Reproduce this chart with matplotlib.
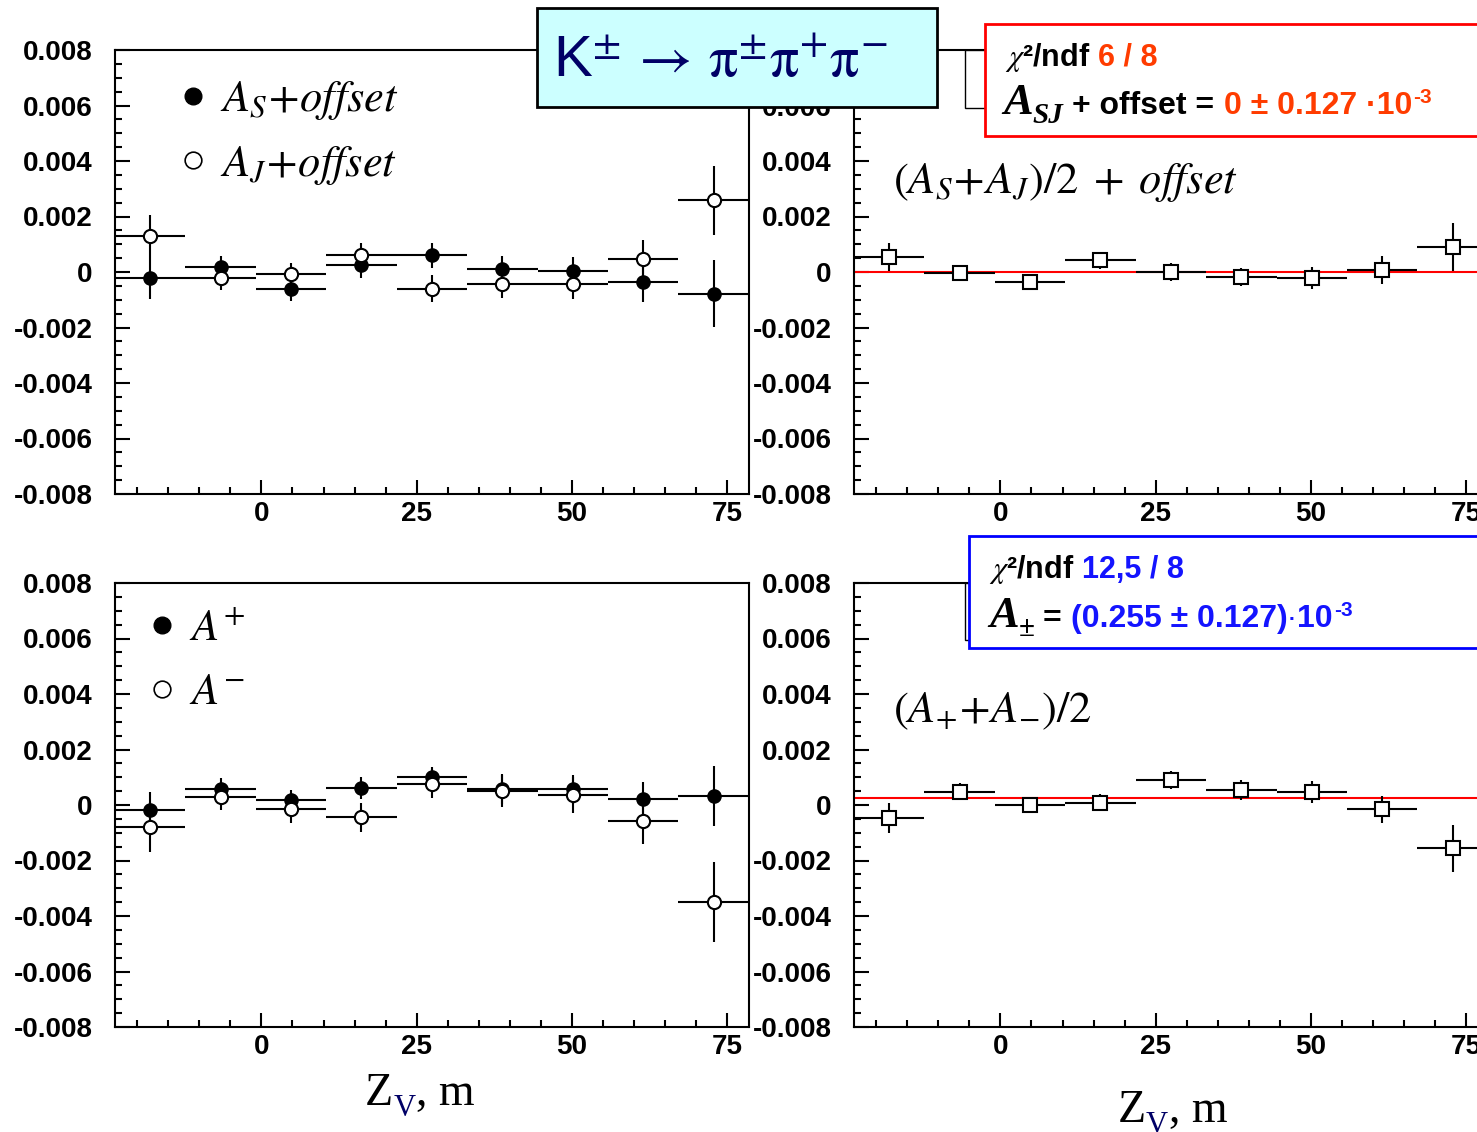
import matplotlib
matplotlib.use('Agg')
import numpy as np
import matplotlib.pyplot as plt
from matplotlib.patches import Rectangle
from matplotlib.lines import Line2D
from matplotlib.ticker import MultipleLocator, FuncFormatter

plt.rcParams['mathtext.fontset'] = 'stix'
plt.rcParams['font.family'] = ['Liberation Sans', 'DejaVu Sans']

# ---------------------------------------------------------------- data
# bin centres (m) and half widths of the Z_V bins
z_bins = [-17.91, -6.57, 4.77, 16.11, 27.45, 38.79, 50.13, 61.47, 72.81]
z_half = [5.67, 5.67, 5.67, 5.67, 5.67, 5.67, 5.67, 5.67, 5.67]

# asymmetries in units of 1e-3
a_s = [-0.20, 0.18, -0.63, 0.24, 0.60, 0.12, 0.04, -0.36, -0.78]
a_s_err = [0.79, 0.40, 0.42, 0.44, 0.46, 0.44, 0.50, 0.72, 1.20]
a_j = [1.30, -0.22, -0.08, 0.60, -0.60, -0.44, -0.42, 0.48, 2.58]
a_j_err = [0.74, 0.42, 0.41, 0.44, 0.48, 0.49, 0.55, 0.68, 1.24]
avg_sj = [0.54, -0.04, -0.36, 0.42, 0.00, -0.18, -0.22, 0.06, 0.90]
avg_sj_err = [0.52, 0.28, 0.30, 0.30, 0.31, 0.34, 0.40, 0.50, 0.86]
fit_sj = 0.0

a_plus = [-0.18, 0.59, 0.18, 0.61, 1.00, 0.57, 0.57, 0.23, 0.32]
a_plus_err = [0.66, 0.37, 0.36, 0.41, 0.38, 0.52, 0.52, 0.61, 1.07]
a_minus = [-0.78, 0.30, -0.16, -0.44, 0.76, 0.52, 0.36, -0.57, -3.48]
a_minus_err = [0.90, 0.48, 0.50, 0.52, 0.52, 0.60, 0.64, 0.82, 1.44]
avg_pm = [-0.48, 0.48, 0.00, 0.08, 0.90, 0.54, 0.48, -0.16, -1.56]
avg_pm_err = [0.54, 0.30, 0.30, 0.30, 0.32, 0.35, 0.40, 0.49, 0.84]
fit_pm = 0.255

ORANGE = '#ff3c00'
BLUE = '#1414ff'
NAVY = '#000066'

W, H = 1477, 1132
fig = plt.figure(figsize=(W / 100, H / 100), dpi=100)


def px_axes(x0, y0, x1, y1):
    return fig.add_axes([x0 / W, 1 - y1 / H, (x1 - x0) / W, (y1 - y0) / H])


def yfmt(v, pos):
    if abs(v) < 1e-9:
        return '0'
    return '%.3f' % v


def style(ax):
    ax.set_xlim(-23.58, 78.52)
    ax.set_ylim(-0.008, 0.008)
    ax.xaxis.set_major_locator(MultipleLocator(25))
    ax.xaxis.set_minor_locator(MultipleLocator(5))
    ax.yaxis.set_major_locator(MultipleLocator(0.002))
    ax.yaxis.set_minor_locator(MultipleLocator(0.0005))
    ax.yaxis.set_major_formatter(FuncFormatter(yfmt))
    ax.tick_params(which='both', direction='in', width=1.5, labelsize=20)
    ax.tick_params(axis='y', which='major', length=11, pad=16)
    ax.tick_params(axis='y', which='minor', length=5)
    ax.tick_params(axis='x', which='major', length=10, pad=5)
    ax.tick_params(axis='x', which='minor', length=5)
    for sp in ax.spines.values():
        sp.set_linewidth(1.5)
    plt.setp(ax.get_xticklabels() + ax.get_yticklabels(), fontweight='bold')


def series(ax, y, err, marker, face, ms):
    ax.errorbar(z_bins, np.array(y) * 1e-3, xerr=z_half, yerr=np.array(err) * 1e-3,
                fmt=marker, ms=ms, mfc=face, mec='black', mew=1.5,
                ecolor='black', elinewidth=1.5, capsize=0, zorder=3)


ax_tl = px_axes(115, 50, 749, 494)
ax_tr = px_axes(854, 50, 1488, 494)
ax_bl = px_axes(115, 583, 749, 1027)
ax_br = px_axes(854, 583, 1488, 1027)

series(ax_tl, a_s, a_s_err, 'o', 'black', 9)
series(ax_tl, a_j, a_j_err, 'o', 'white', 9.5)
ax_tr.axhline(fit_sj * 1e-3, color='red', lw=1.5, zorder=2)
series(ax_tr, avg_sj, avg_sj_err, 's', 'white', 9.5)

series(ax_bl, a_plus, a_plus_err, 'o', 'black', 9)
series(ax_bl, a_minus, a_minus_err, 'o', 'white', 9.5)
ax_br.axhline(fit_pm * 1e-3, color='red', lw=1.5, zorder=2)
series(ax_br, avg_pm, avg_pm_err, 's', 'white', 9.5)

for ax in (ax_tl, ax_tr, ax_bl, ax_br):
    style(ax)

# legends
h_fill = Line2D([], [], ls='none', marker='o', color='black', ms=12)
h_open = Line2D([], [], ls='none', marker='o', mfc='white', mec='black', mew=1.2, ms=12)
ax_tl.legend([h_fill, h_open], [r'$A_S\!+\!offset$', r'$A_J\!+\!offset$'],
             loc='upper left', bbox_to_anchor=(0.106, 0.934), frameon=False,
             fontsize=32, handlelength=0.5, handletextpad=0.35,
             labelspacing=0.48, borderaxespad=0, borderpad=0)
ax_bl.legend([h_fill, h_open], [r'$A^{+}$', r'$A^{-}$'],
             loc='upper left', bbox_to_anchor=(0.057, 0.943), frameon=False,
             fontsize=32, handlelength=0.5, handletextpad=0.35,
             labelspacing=0.52, borderaxespad=0, borderpad=0)

# boxes
def box(x0, y0, x1, y1, fc, ec, lw, z):
    fig.add_artist(Rectangle((x0 / W, 1 - y1 / H), (x1 - x0) / W, (y1 - y0) / H,
                             transform=fig.transFigure, fc=fc, ec=ec, lw=lw, zorder=z))

box(965, 50, 1500, 108, 'white', 'black', 1, 9)
box(965, 583, 1500, 640, 'white', 'black', 1, 9)
box(985, 24, 1500, 136, 'white', '#ff0000', 2, 10)
box(969, 536, 1500, 648, 'white', '#0000ff', 2, 10)
box(537, 8, 937, 107, '#ccffff', 'black', 2, 10)

fig.text(720 / W, 1 - 62 / H,
         r'K$^{\pm}\,\rightarrow\,\mathrm{\pi}^{\pm}\mathrm{\pi}^{+}\mathrm{\pi}^{-}$',
         ha='center', va='center', fontsize=42, color=NAVY, zorder=12)

renderer = fig.canvas.get_renderer()


def pieces(x, y, parts):
    # parts: (text, props, dy in px (down is +), gap after in px)
    for s, kw, dy, gap in parts:
        t = fig.text(x / W, 1 - (y + dy) / H, s, ha='left', va='baseline', zorder=12, **kw)
        x = t.get_window_extent(renderer).x1 + gap


def sb(size, color='black'):
    return dict(fontsize=size, fontweight='bold', color=color)


def serif(size, color='black', bold=False, italic=False):
    return dict(fontsize=size, family=['Liberation Serif'], color=color,
                fontweight='bold' if bold else 'normal',
                fontstyle='italic' if italic else 'normal')


pieces(1005, 66, [(r'$\chi$' + '²/ndf', sb(22), 0, 8), ('6 / 8', sb(22, ORANGE), 0, 0)])
pieces(1003, 114, [('A', serif(32, bold=True, italic=True), 0, 0),
                   ('SJ', serif(21, bold=True, italic=True), 9, 8),
                   ('+ offset =', sb(23), 0, 10),
                   ('0 ± 0.127 ·10', sb(23, ORANGE), 0, 1),
                   ('-3', sb(15, ORANGE), -11, 0)])

pieces(989, 578, [(r'$\chi$' + '²/ndf', sb(22), 0, 8), ('12,5 / 8', sb(22, BLUE), 0, 0)])
pieces(989, 627, [('A', serif(32, bold=True, italic=True), 0, 0),
                  ('±', serif(21, bold=True), 9, 8),
                  ('=', sb(23), 0, 10),
                  ('(0.255 ± 0.127)', sb(23, BLUE), 0, 1),
                  ('·', sb(15, BLUE), -2, 1),
                  ('10', sb(23, BLUE), 0, 1),
                  ('-3', sb(15, BLUE), -11, 0)])

# panel labels
fig.text(893 / W, 1 - 193 / H, r'$(A_S\!+\!A_J)/2\;+\;offset$', fontsize=32,
         ha='left', va='baseline')
fig.text(893 / W, 1 - 722 / H, r'$(A_{+}\!+\!A_{-})/2$', fontsize=32,
         ha='left', va='baseline')

# x axis titles
for xx, yy in ((365, 1105), (1118, 1122)):
    pieces(xx, yy, [('Z', serif(33), 0, 0), ('V', serif(22, NAVY), 11, 1), (', m', serif(33), 0, 0)])

fig.savefig('out.png', dpi=100)
